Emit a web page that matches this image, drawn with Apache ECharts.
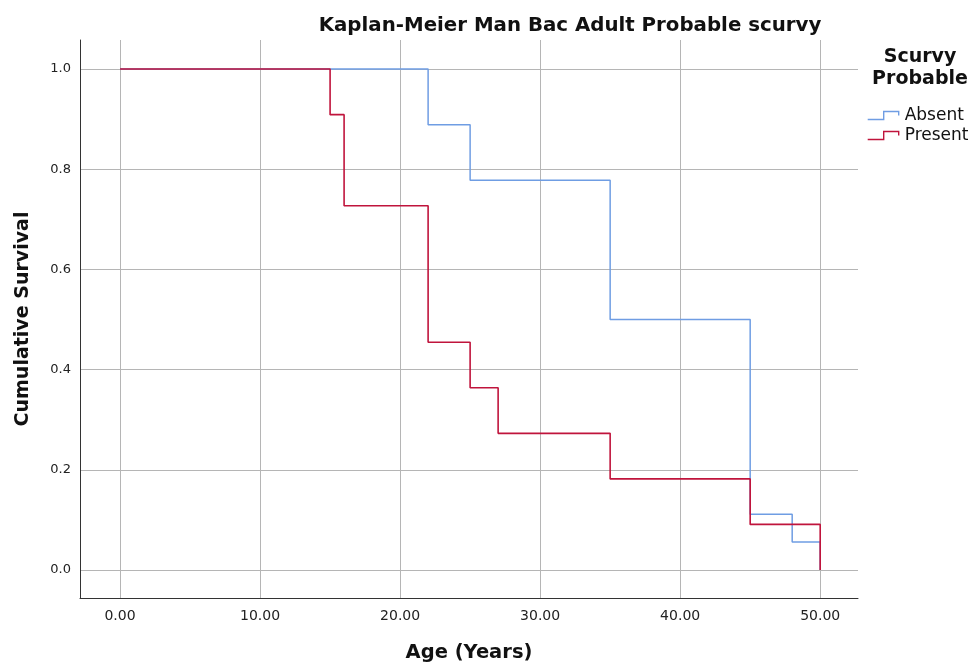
<!DOCTYPE html>
<html>
<head>
<meta charset="utf-8">
<script src="https://cdn.jsdelivr.net/npm/echarts@6/dist/echarts.min.js"></script>
<style>html,body{margin:0;padding:0;background:#fff}#c{width:968px;height:664px}</style>
</head>
<body>
<div id="c"></div>
<script>
// Kaplan-Meier step data: [age, cumulative survival]
const absentAges = [0, 22, 25, 35, 45, 48, 50, 50];
const absentSurv = [1.0, 0.889, 0.778, 0.5, 0.111, 0.056, 0.056, 0.0];
const presentAges = [0, 15, 16, 22, 25, 27, 35, 45, 50, 50];
const presentSurv = [1.0, 0.909, 0.727, 0.4545, 0.3636, 0.2727, 0.1818, 0.0909, 0.0909, 0.0];
const xTicks = [0, 10, 20, 30, 40, 50];
const yTicks = [0, 0.2, 0.4, 0.6, 0.8, 1.0];
const seriesNames = ['Absent', 'Present'];
const seriesColors = ['#6f9de3', '#c0143c'];

const pair = (xs, ys) => xs.map((x, i) => [x, ys[i]]);
const font = '"DejaVu Sans", sans-serif';
const chart = echarts.init(document.getElementById('c'), null, {renderer: 'canvas'});
chart.setOption({
  animation: false,
  backgroundColor: '#fff',
  title: [
    {text: 'Kaplan-Meier Man Bac Adult Probable scurvy', left: 565, top: 11, textAlign: 'center',
     textStyle: {fontFamily: font, fontSize: 19.8, fontWeight: 'bold', color: '#111'}},
    {text: 'Scurvy\nProbable', left: 915, top: 41, textAlign: 'center',
     textStyle: {fontFamily: font, fontSize: 19, fontWeight: 'bold', color: '#111', lineHeight: 22}}
  ],
  legend: {
    orient: 'vertical', left: 862, top: 102, itemGap: 3, itemWidth: 31, itemHeight: 8,
    data: seriesNames.map((n, i) => ({
      name: n, icon: 'path://M0,8 L16,8 L16,0 L31,0 L31,4',
      itemStyle: {color: 'transparent', borderColor: seriesColors[i], borderWidth: 1.4}
    })),
    textStyle: {fontFamily: font, fontSize: 17, color: '#111', padding: [0, 0, 0, 1]}
  },
  grid: {left: 80, top: 40, width: 778, height: 558, containLabel: false, outerBoundsMode: 'none'},
  xAxis: {
    type: 'value', min: -2.86, max: 52.7,
    name: 'Age (Years)', nameLocation: 'middle', nameGap: 45,
    nameTextStyle: {fontFamily: font, fontSize: 19.5, fontWeight: 'bold', color: '#111'},
    axisLine: {show: true, onZero: false, lineStyle: {color: '#333', width: 1}},
    axisTick: {show: false, customValues: xTicks},
    axisLabel: {customValues: xTicks, formatter: v => v.toFixed(2), fontFamily: font, fontSize: 14, color: '#222', margin: 11},
    splitLine: {show: true, lineStyle: {color: '#b5b5b5', width: 1}}
  },
  yAxis: {
    type: 'value', min: -0.056, max: 1.058,
    name: 'Cumulative Survival', nameLocation: 'middle', nameGap: 47,
    nameTextStyle: {fontFamily: font, fontSize: 19, fontWeight: 'bold', color: '#111'},
    axisLine: {show: true, onZero: false, lineStyle: {color: '#333', width: 1}},
    axisTick: {show: false, customValues: yTicks},
    axisLabel: {customValues: yTicks, formatter: v => v.toFixed(1), fontFamily: font, fontSize: 13, color: '#222', margin: 9},
    splitLine: {show: true, lineStyle: {color: '#b5b5b5', width: 1}}
  },
  series: [
    {name: 'Absent', type: 'line', step: 'end', data: pair(absentAges, absentSurv), showSymbol: false,
     color: seriesColors[0], lineStyle: {color: seriesColors[0], width: 1.5}, z: 2},
    {name: 'Present', type: 'line', step: 'end', data: pair(presentAges, presentSurv), showSymbol: false,
     color: seriesColors[1], lineStyle: {color: seriesColors[1], width: 1.6}, z: 3}
  ]
});
</script>
</body>
</html>
